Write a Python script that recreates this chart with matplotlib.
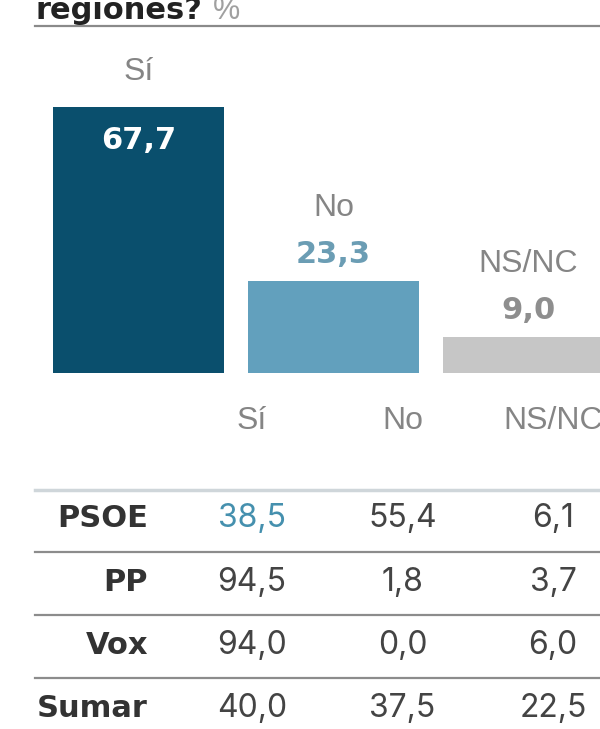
import matplotlib.pyplot as plt
from matplotlib.lines import Line2D

# data
answers = ['Sí', 'No', 'NS/NC']
totals = [67.7, 23.3, 9.0]
parties = ['PSOE', 'PP', 'Vox', 'Sumar']
col_si = [38.5, 94.5, 94.0, 40.0]
col_no = [55.4, 1.8, 0.0, 37.5]
col_nsnc = [6.1, 3.7, 6.0, 22.5]

bar_colors = ['#0a4f6d', '#62a0bd', '#c6c6c6']
value_colors = ['white', '#6b9db4', '#8e8e8e']
gray = '#858585'
dark = '#333333'

REG = 'Inter'
LAB = 'Liberation Sans'
BOLD = 'DejaVu Sans'

W, H = 600, 729


def fmt(v):
    return f'{v:.1f}'.replace('.', ',')


fig = plt.figure(figsize=(W / 100, H / 100), dpi=100)

# title (cut off at the top in the original)
fig.text(35 / W, 1 - 19 / H, 'regiones?', fontsize=22, fontweight='bold',
         family=BOLD, color='#222222', va='baseline', ha='left')
fig.text(213 / W, 1 - 19 / H, '%', fontsize=22, family=LAB, color='#a0a0a0',
         va='baseline', ha='left')
fig.add_artist(Line2D([35 / W, 1], [1 - 25.5 / H] * 2, transform=fig.transFigure,
                      color='#8a8a8a', lw=1.6))

# bar chart
base_px = 372.5
ax = fig.add_axes([0, 1 - base_px / H, 1, base_px / H])
ax.set_xlim(-0.710, 2.367)
ax.set_ylim(0, 95.0)
ax.axis('off')
bars = ax.bar(range(len(answers)), totals, width=0.877, color=bar_colors)

for i, (lab, v) in enumerate(zip(answers, totals)):
    if i == 0:
        lab_dy, val_dy = 35, -33
    else:
        lab_dy, val_dy = 73, 27
    ax.annotate(lab, xy=(i, v), xytext=(0, lab_dy), textcoords='offset pixels',
                ha='center', va='center', fontsize=23, family=LAB, color=gray)
    ax.annotate(fmt(v), xy=(i, v), xytext=(0, val_dy), textcoords='offset pixels',
                ha='center', va='center', fontsize=22, fontweight='bold',
                family=BOLD, color=value_colors[i])

# table
ax2 = fig.add_axes([0, 0, 1, 349 / H])
ax2.set_xlim(-1.674, 2.312)
ax2.set_ylim(3.333, -2.206)
ax2.axis('off')

header_row = -1.55
for j, lab in enumerate(answers):
    ax2.text(j, header_row, lab, ha='center', va='center', fontsize=23,
             family=LAB, color=gray, clip_on=False)

ax2.axhline(-0.46, xmin=35 / W, xmax=1, color='#cfd6da', lw=2.5)
for r in range(len(parties) - 1):
    ax2.axhline(r + 0.53, xmin=35 / W, xmax=1, color='#8c8c8c', lw=1.6)

for r, p in enumerate(parties):
    ax2.text(-0.69, r, p, ha='right', va='center', fontsize=22,
             fontweight='bold', family=BOLD, color=dark)
    for j, col in enumerate([col_si, col_no, col_nsnc]):
        c = '#4590ae' if (r == 0 and j == 0) else '#444444'
        ax2.text(j, r, fmt(col[r]), ha='center', va='center', fontsize=23,
                 family=REG, color=c)

fig.savefig('out.png', dpi=100, facecolor='white')
